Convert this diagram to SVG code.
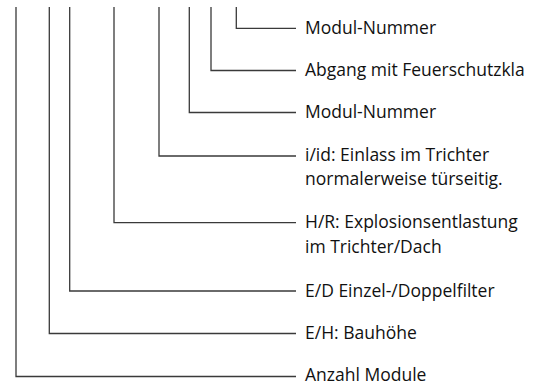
<svg xmlns="http://www.w3.org/2000/svg" width="544" height="383" viewBox="0 0 544 383">
<style>
.c{fill:none;stroke:#3a3a3a;stroke-width:1.3}
.t{font-family:"Open Sans","Noto Sans",sans-serif;font-size:17.5px;fill:#111}
</style>
<rect width="544" height="383" fill="#fff"/>
<g id="connectors">
<path class="c" d="M236.3 7V28.3H296"/>
<path class="c" d="M211 7V70.5H296"/>
<path class="c" d="M189.3 7V112.5H296"/>
<path class="c" d="M159 7V156H296"/>
<path class="c" d="M114 7V222.7H296"/>
<path class="c" d="M69.7 7V291H296"/>
<path class="c" d="M49.3 7V333.5H296"/>
<path class="c" d="M16 7V376.5H296"/>
</g>
<g id="n1"><text class="t" x="305" y="34.3">Modul-Nummer</text></g>
<g id="n2"><text class="t" x="305" y="76.3">Abgang mit Feuerschutzkla</text></g>
<g id="n3"><text class="t" x="305" y="118.3">Modul-Nummer</text></g>
<g id="n4"><text class="t" x="305" y="160.7">i/id: Einlass im Trichter</text><text class="t" x="305" y="185.2">normalerweise türseitig.</text></g>
<g id="n5"><text class="t" x="305" y="228.2">H/R: Explosionsentlastung</text><text class="t" x="305" y="252.7">im Trichter/Dach</text></g>
<g id="n6"><text class="t" x="305" y="296.8">E/D Einzel-/Doppelfilter</text></g>
<g id="n7"><text class="t" x="305" y="339.2">E/H: Bauhöhe</text></g>
<g id="n8"><text class="t" x="305" y="381">Anzahl Module</text></g>
</svg>
